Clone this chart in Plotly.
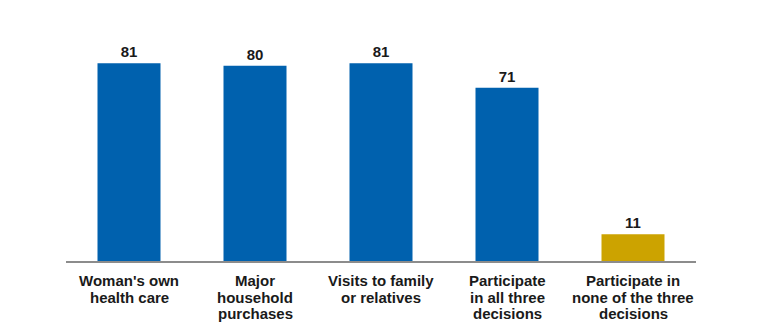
import plotly.graph_objects as go

categories = ["Woman's own|health care", "Major|household|purchases",
              "Visits to family|or relatives", "Participate|in all three|decisions",
              "Participate in|none of the three|decisions"]
values = [81, 80, 81, 71, 11]
bar_colors = ["#0061AE", "#0061AE", "#0061AE", "#0061AE", "#CCA300"]

FONT = "Liberation Sans, Arial, sans-serif"
xpos = list(range(len(categories)))

fig = go.Figure(go.Bar(
    x=xpos, y=values,
    marker=dict(color=bar_colors, line=dict(width=0)),
    width=0.5,
    text=[str(v) for v in values],
    textposition="outside",
    textfont=dict(family=FONT, size=15, color="#1a1a1a"),
    texttemplate="<b>%{text}</b>",
    cliponaxis=False,
))

annotations = []
for i, cat in enumerate(categories):
    for j, line in enumerate(cat.split("|")):
        annotations.append(dict(
            x=i, y=0, xref="x", yref="y",
            text="<b>" + line + "</b>", showarrow=False,
            xanchor="center", yanchor="top",
            yshift=-(9 + j * 16.7),
            font=dict(family=FONT, size=15, color="#1a1a1a"),
        ))

fig.update_layout(
    width=765, height=334,
    margin=dict(l=66, r=69, t=17, b=73),
    paper_bgcolor="white", plot_bgcolor="white",
    showlegend=False,
    font=dict(family=FONT, size=15, color="#1a1a1a"),
    xaxis=dict(
        type="linear",
        showline=True, linecolor="#8c8c8c", linewidth=1.5,
        ticks="", showgrid=False, zeroline=False, range=[-0.5, 4.5],
        showticklabels=False,
    ),
    yaxis=dict(range=[0, 100], visible=False, showgrid=False),
    annotations=annotations,
)

fig.write_html("out.html")
